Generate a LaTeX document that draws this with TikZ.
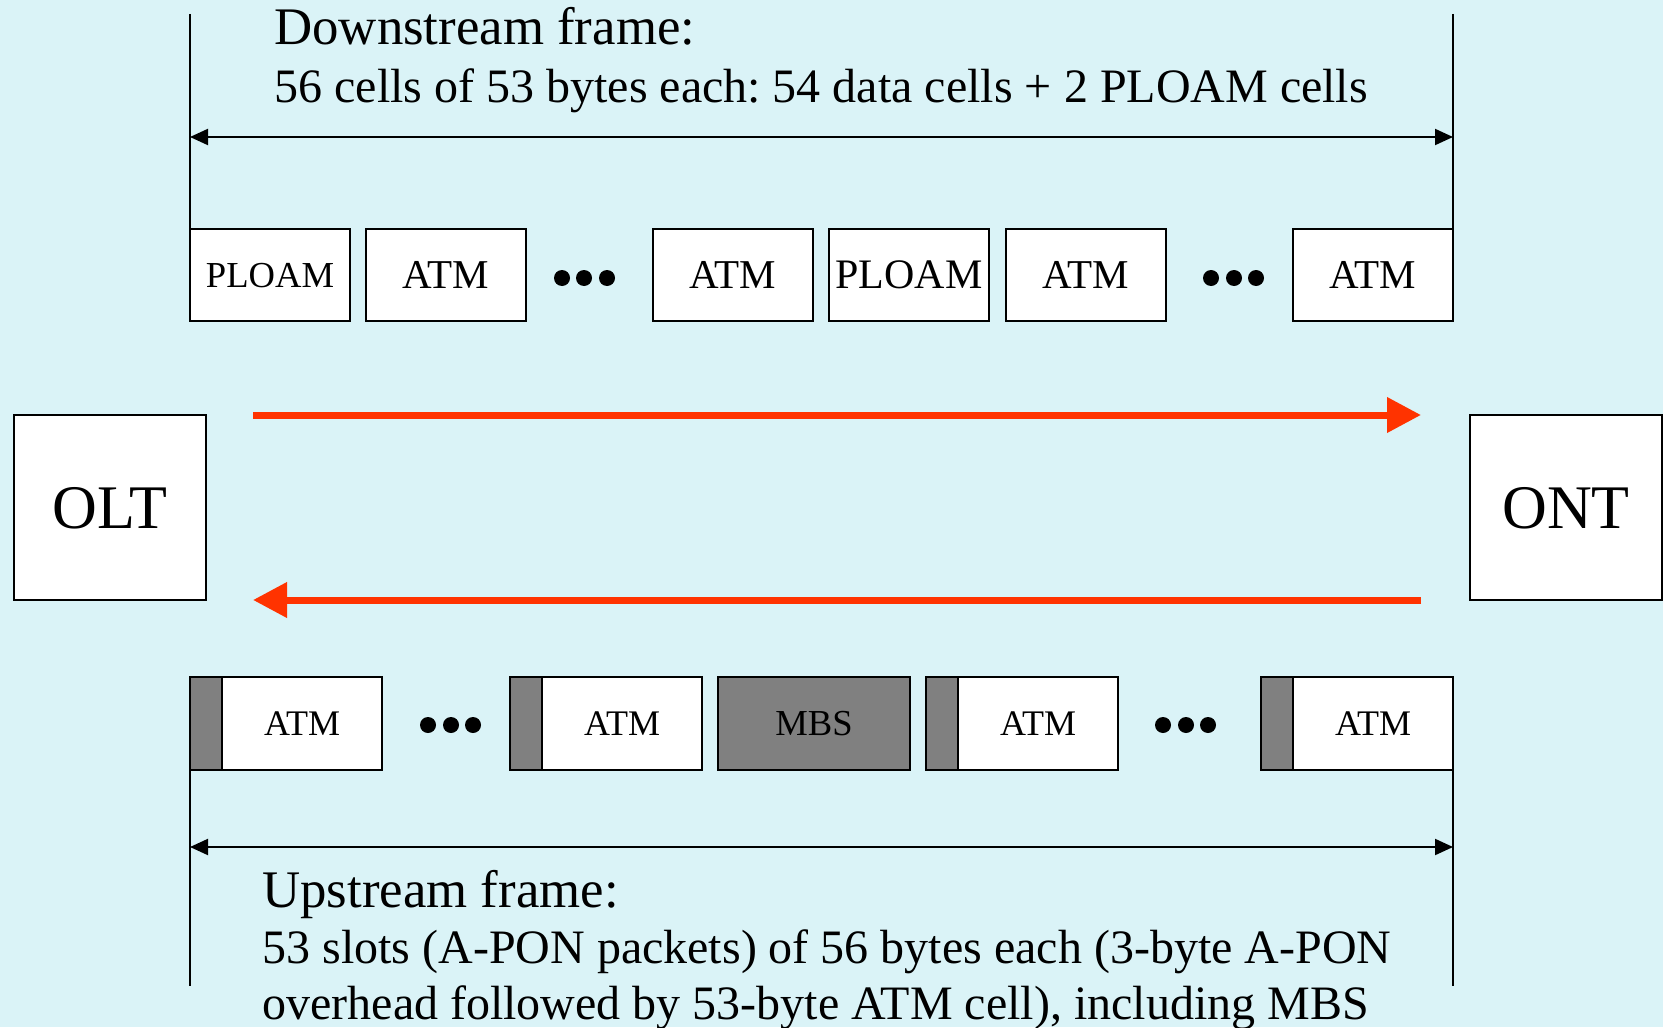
\documentclass[tikz,border=0pt]{standalone}
\usepackage{fontspec}
\setmainfont{Liberation Serif}
\usetikzlibrary{arrows.meta}
\definecolor{bg}{RGB}{218,243,247}
\definecolor{redarrow}{HTML}{FF3300}
\definecolor{ovh}{HTML}{808080}
\frenchspacing
\begin{document}
\begin{tikzpicture}[x=0.5pt,y=-0.5pt,
  cell/.style={draw, line width=1pt, fill=white, minimum width=80pt, minimum height=46pt, inner sep=0pt, outer sep=0pt, text depth=-4.2pt},
  ucell/.style={draw, line width=1pt, fill=white, minimum width=80pt, minimum height=46.5pt, inner sep=0pt, outer sep=0pt, font=\fontsize{18}{20}\selectfont, text depth=-3.2pt},
  oh/.style={draw, line width=1pt, fill=ovh, minimum width=16pt, minimum height=46.5pt, inner sep=0pt, outer sep=0pt},
  blob/.style={circle, fill=black, inner sep=0pt, minimum size=8pt},
  dim/.style={line width=1pt, {Triangle[length=9pt,width=8pt]}-{Triangle[length=9pt,width=8pt]}},
  flow/.style={draw=redarrow, line width=3.5pt, -{Triangle[length=17pt,width=17pt,fill=redarrow]}},
  guide/.style={line width=1pt},
  endbox/.style={draw, line width=1pt, fill=white, minimum width=96pt, minimum height=92.5pt, inner sep=0pt, font=\fontsize{31}{34}\selectfont, text depth=-3.2pt},
  label/.style={anchor=base west, inner sep=0pt}]
\fill[bg] (0,0) rectangle (1663,1027);
\useasboundingbox (0,0) rectangle (1663,1027);

% downstream text
\node[label, font=\fontsize{26.4}{30}\selectfont] (dtitle) at (274,45) {Downstream frame:};
\node[label, font=\fontsize{24}{28}\selectfont] (dtext) at (274,103) {56 cells of 53 bytes each: 54 data cells + 2 PLOAM cells};

% downstream cells
\node[cell, font=\fontsize{18.3}{20}\selectfont] (d1) at (270,275) {PLOAM};
\node[cell, font=\fontsize{20.5}{22}\selectfont] (d2) at (446,275) {ATM};
\node[cell, font=\fontsize{20.5}{22}\selectfont] (d3) at (733,275) {ATM};
\node[cell, font=\fontsize{21}{22}\selectfont] (d4) at (909,275) {PLOAM};
\node[cell, font=\fontsize{20.5}{22}\selectfont] (d5) at (1085.5,275) {ATM};
\node[cell, font=\fontsize{20.5}{22}\selectfont] (d6) at (1373,275) {ATM};
\node[blob] (da1) at (562,278) {};
\node[blob] (da2) at (584,278) {};
\node[blob] (da3) at (607,278) {};
\node[blob] (db1) at (1211,278) {};
\node[blob] (db2) at (1234,278) {};
\node[blob] (db3) at (1256,278) {};

% downstream guides
\coordinate (tl) at (190,14);
\coordinate (tr) at (1453,14);
\coordinate (dl) at (190,137);
\coordinate (dr) at (1453,137);
\draw[guide] (tl) -- (d1.north west);
\draw[guide] (tr) -- (d6.north east);
\draw[dim] (dl) -- (dr);

% end boxes
\node[endbox] (olt) at (110,507.5) {OLT};
\node[endbox, minimum width=96pt] (ont) at (1566,507.5) {ONT};

% red flows
\coordinate (f1s) at (253,415);
\coordinate (f1e) at (1421,415);
\coordinate (f2s) at (1421,600);
\coordinate (f2e) at (253,600);
\draw[flow] (f1s) -- (f1e);
\draw[flow] (f2s) -- (f2e);

% upstream cells
\node[oh] (o1) at (206,723.5) {};
\node[ucell, anchor=west] (u1) at (o1.east) {ATM};
\node[oh] (o2) at (526,723.5) {};
\node[ucell, anchor=west] (u2) at (o2.east) {ATM};
\node[draw, line width=1pt, fill=ovh, minimum width=96pt, minimum height=46.5pt, inner sep=0pt, outer sep=0pt, text depth=-3.2pt, font=\fontsize{18.3}{20}\selectfont] (mbs) at (814,723.5) {MBS};
\node[oh] (o3) at (942,723.5) {};
\node[ucell, anchor=west] (u3) at (o3.east) {ATM};
\node[oh] (o4) at (1277,723.5) {};
\node[ucell, anchor=west] (u4) at (o4.east) {ATM};
\node[blob] (ua1) at (428,725) {};
\node[blob] (ua2) at (451,725) {};
\node[blob] (ua3) at (473,725) {};
\node[blob] (ub1) at (1163,725) {};
\node[blob] (ub2) at (1186,725) {};
\node[blob] (ub3) at (1208,725) {};

% upstream guides
\coordinate (bl) at (190,986);
\coordinate (br) at (1453,986);
\coordinate (ul) at (190,847);
\coordinate (ur) at (1453,847);
\draw[guide] (o1.south west) -- (bl);
\draw[guide] (u4.south east) -- (br);
\draw[dim] (ul) -- (ur);

% upstream text
\node[label, font=\fontsize{26.4}{30}\selectfont] (utitle) at (262,907) {Upstream frame:};
\node[label, font=\fontsize{24}{28}\selectfont] (utext1) at (262,963) {53 slots (A-PON packets) of 56 bytes each (3-byte A-PON};
\node[label, font=\fontsize{24}{28}\selectfont] (utext2) at (262,1019) {overhead followed by 53-byte ATM cell), including MBS};
\end{tikzpicture}
\end{document}
